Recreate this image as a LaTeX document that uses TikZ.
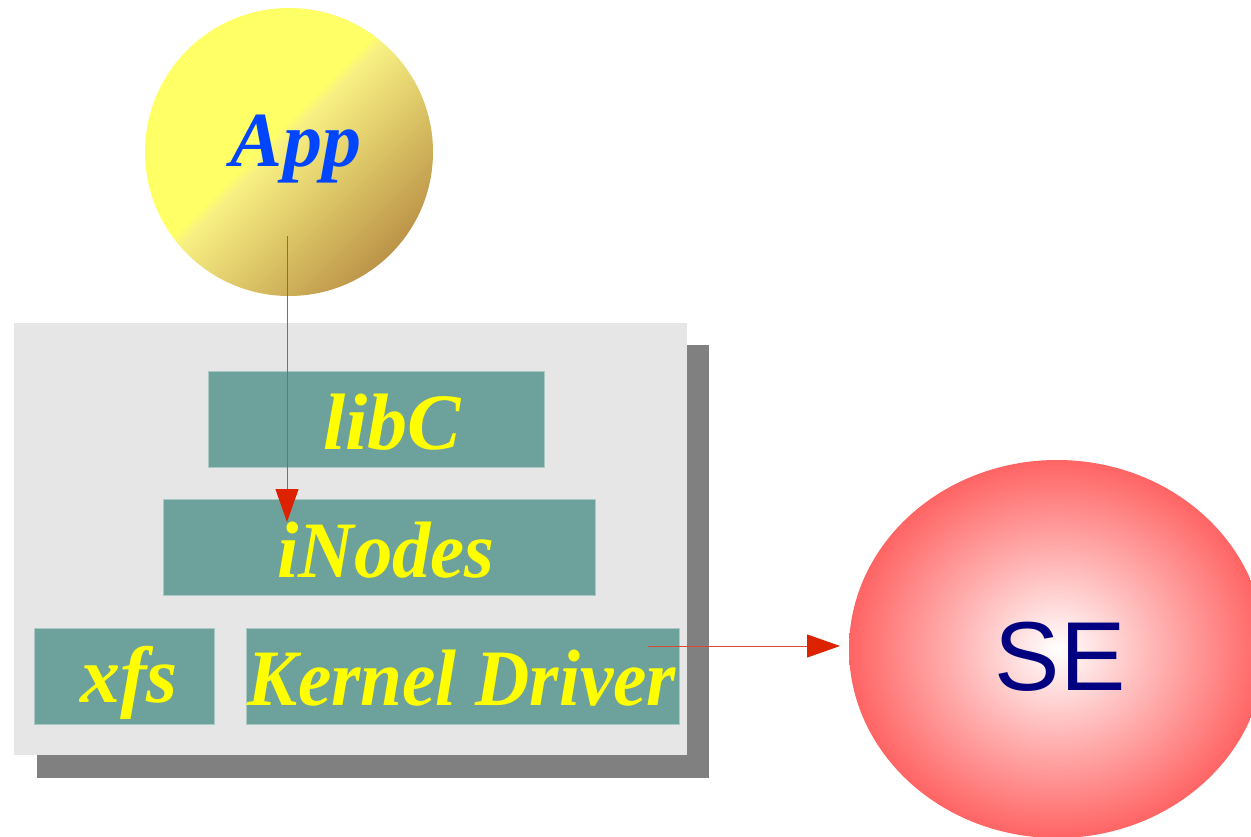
\documentclass[tikz,border=0pt]{standalone}
\usepackage{fontspec}
\setmainfont{Liberation Serif}
\newfontfamily\sefont{Liberation Sans}
\usetikzlibrary{arrows.meta,shapes.geometric}

\definecolor{appyel}{RGB}{255,255,102}
\definecolor{appmid}{RGB}{248,240,130}
\definecolor{appdark}{RGB}{188,148,72}
\definecolor{boxteal}{RGB}{109,161,155}
\definecolor{boxedge}{RGB}{170,200,196}
\definecolor{bgray}{RGB}{230,230,230}
\definecolor{sgray}{RGB}{128,128,128}
\definecolor{txtyel}{RGB}{255,255,0}
\definecolor{appblue}{RGB}{0,70,255}
\definecolor{senavy}{RGB}{0,0,128}
\definecolor{sered}{RGB}{255,100,100}
\definecolor{sepink}{RGB}{255,185,185}
\definecolor{arrline}{RGB}{215,75,50}
\definecolor{arrhead}{RGB}{221,34,0}

\pgfdeclarehorizontalshading{appshade}{100bp}{color(0bp)=(appyel); color(46bp)=(appyel); color(48bp)=(appmid); color(75bp)=(appdark); color(100bp)=(appdark)}
\pgfdeclareradialshading{seshade}{\pgfpointorigin}{color(0bp)=(white); color(11bp)=(sepink); color(25bp)=(sered); color(50bp)=(sered)}

\tikzset{
  tbox/.style={draw=boxedge, line width=0.8pt, fill=boxteal, inner sep=0pt},
  tlabel/.style={text=txtyel, inner sep=0pt, font=\fontsize{80}{96}\selectfont\bfseries\itshape},
  conn/.style={draw=arrline, line width=1pt, -{Triangle[length=33pt,width=23pt,color=arrhead]}},
}

\begin{document}
\begin{tikzpicture}[x=1pt,y=-1pt]
\useasboundingbox (0,0) rectangle (1251,837);
\clip (0,0) rectangle (1251,837);

% App circle
\path[shading=appshade, shading angle=-45] (289,152) circle[radius=144];
\node[circle, minimum size=288pt, inner sep=0pt] (app) at (289,152) {};
\node[anchor=base, inner sep=0pt, text=appblue, font=\fontsize{78}{90}\selectfont\bfseries\itshape] (apptxt) at (296,167) {App};

% container with shadow
\node[fill=sgray, minimum width=672pt, minimum height=433pt, inner sep=0pt] (shadow) at (373,561.5) {};
\node[fill=bgray, minimum width=673pt, minimum height=432pt, inner sep=0pt] (cont) at (350.5,539) {};

% boxes
\node[tbox, minimum width=336pt, minimum height=96pt] (libc) at (376,419) {};
\node[tbox, minimum width=432pt, minimum height=96pt] (inodes) at (379,547) {};
\node[tbox, minimum width=180pt, minimum height=96pt] (xfs) at (124,676) {};
\node[tbox, minimum width=433pt, minimum height=96pt] (kd) at (462.5,676) {};

\node[tlabel, anchor=base] (libct) at (392,449) {libC};
\node[tlabel, anchor=base, xscale=0.96] (inodest) at (386,577) {iNodes};
\node[tlabel, anchor=base] (xfst) at (129,702) {xfs};
\node[tlabel, anchor=base, xscale=0.94] (kdt) at (462,705) {Kernel Driver};

% SE ellipse
\path[shading=seshade] (1057,649) ellipse[x radius=208, y radius=189];
\node[ellipse, minimum width=416pt, minimum height=378pt, inner sep=0pt] (se) at (1057,649) {};
\node[anchor=base, inner sep=0pt, text=senavy, font=\sefont\fontsize{98}{110}\selectfont] (setxt) at (1060,690) {SE};

% connectors
\coordinate (a1) at (287,236);
\coordinate (a2) at (287,522);
\coordinate (b1) at (648,646);
\coordinate (b2) at (840,646);
\draw[conn] (a1) -- (a2);
\draw[conn] (b1) -- (b2);
\end{tikzpicture}
\end{document}
